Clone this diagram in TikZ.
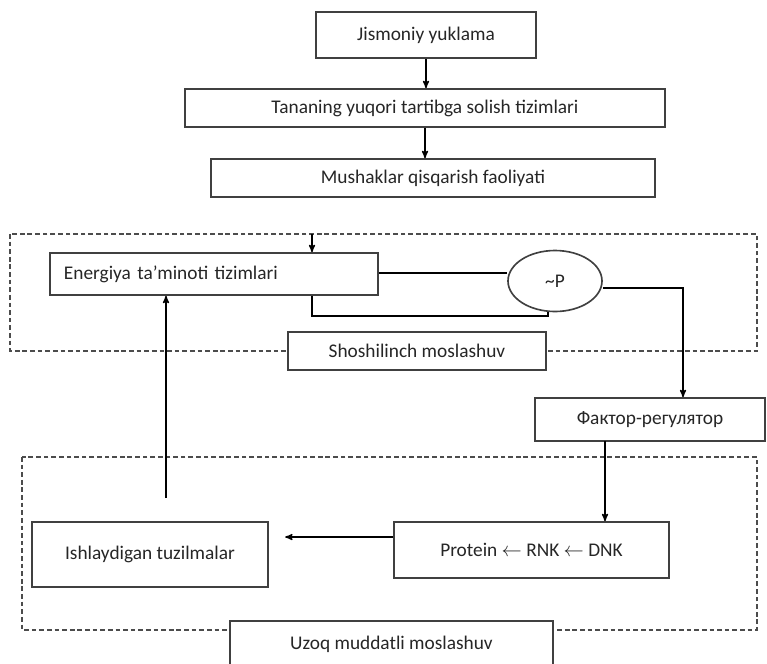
\documentclass[tikz,border=0pt]{standalone}
\usepackage{fontspec}
\setmainfont{Carlito}
\usetikzlibrary{arrows, shapes.geometric}

\begin{document}
\begin{tikzpicture}[->,>=stealth',x=0.03cm,y=-0.03cm,line width=1.2pt,
  box/.style={rectangle,draw=black!75,line width=1.4pt,fill=white,text=black!85,font=\fontsize{16.5}{19}\selectfont},
  frame/.style={-,draw=black!70,line width=1.2pt,dash pattern=on 4pt off 2.5pt}]
  \useasboundingbox (0,0) rectangle (767,663);
  % dashed frames
  \draw[frame] (10,234) rectangle (757,351);
  \draw[frame] (22,457) rectangle (757,630);

  \node[box,minimum width=6.6cm,minimum height=1.38cm] (jism) at (426,35) {Jismoniy yuklama};
  \node[box,minimum width=14.4cm,minimum height=1.14cm] (tan) at (425,108) {Tananing yuqori tartibga solish tizimlari};
  \node[box,minimum width=13.32cm,minimum height=1.14cm] (mush) at (433,178) {Mushaklar qisqarish faoliyati};
  \node[box,text width=9.0cm,inner xsep=0.42cm,align=left,minimum height=1.26cm] (ener) at (214,274) {Energiya ta'minoti tizimlari};
  \node[box,ellipse,minimum width=2.82cm,minimum height=1.83cm,inner sep=0pt] (pp) at (555,281) {\textasciitilde P};
  \node[box,minimum width=7.74cm,minimum height=1.14cm] (shosh) at (417,351) {Shoshilinch moslashuv};
  \node[box,minimum width=6.9cm,minimum height=1.29cm] (fakt) at (650,419.5) {Фактор-регулятор};
  \node[box,minimum width=8.25cm,minimum height=1.68cm] (prot) at (531.5,550) {Protein $\leftarrow$ RNK $\leftarrow$ DNK};
  \node[box,minimum width=7.08cm,minimum height=1.95cm] (ishl) at (150,554.5) {Ishlaydigan tuzilmalar};
  \node[box,minimum width=9.69cm,minimum height=1.41cm] (uzoq) at (391.5,644.5) {Uzoq muddatli moslashuv};

  \coordinate (ent) at (312,234);
  \coordinate (lft) at (0,273);
  \coordinate (brk) at (548,316);
  \coordinate (rt) at (683,288);
  \coordinate (dn) at (605,441);
  \coordinate (mid) at (0,537);
  \coordinate (up) at (166,498);

  \draw (jism) -- (jism |- tan.north);
  \draw (tan.south) -- (tan.south |- mush.north);
  \draw (ent) -- (ent |- ener.north);
  \draw[-] (lft -| ener.east) -- (lft -| pp.west);
  \draw[-] (ent |- ener.south) |- (brk) -- (brk |- pp.south);
  \draw (rt -| pp.east) -- (rt) -- (rt |- fakt.north);
  \draw (dn) -- (dn |- prot.north);
  \draw[shorten >=14pt] (mid -| prot.west) -- (mid -| ishl.east);
  \draw (up) -- (up |- ener.south);
\end{tikzpicture}
\end{document}
